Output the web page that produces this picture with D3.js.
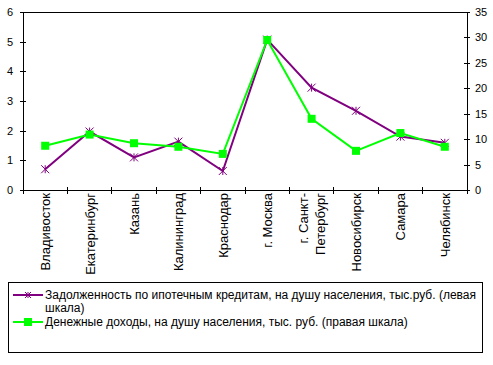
<!DOCTYPE html>
<html>
<head>
<meta charset="utf-8">
<script src="https://cdn.jsdelivr.net/npm/d3@7"></script>
<style>
  body { margin: 0; background: #fff; }
  svg { display: block; font-family: "Liberation Sans", Arial, sans-serif; }
</style>
</head>
<body>
<div id="chart"></div>
<script>
// data
const cities = ["Владивосток", "Екатеринбург", "Казань", "Калининград", "Краснодар",
  "г. Москва", "г. Санкт-|Петербург", "Новосибирск", "Самара", "Челябинск"];
const mortgageDebt = [0.70, 1.97, 1.10, 1.63, 0.64, 5.07, 3.45, 2.67, 1.80, 1.59];
const income = [8.7, 10.9, 9.2, 8.5, 7.1, 29.5, 14.0, 7.7, 11.2, 8.5];
const leftTicks = [0, 1, 2, 3, 4, 5, 6];
const rightTicks = [0, 5, 10, 15, 20, 25, 30, 35];
const legendLabels = [
  ["Задолженность по ипотечным кредитам, на душу населения, тыс.руб. (левая", "шкала)"],
  ["Денежные доходы, на душу населения, тыс. руб. (правая шкала)"]
];

const W = 493, H = 365;
const margin = {top: 12, right: 26, bottom: 175, left: 23};
const width = W - margin.left - margin.right;
const height = H - margin.top - margin.bottom;

const svg = d3.select("#chart").append("svg")
  .attr("width", W).attr("height", H);

const g = svg.append("g")
  .attr("transform", "translate(" + margin.left + "," + margin.top + ")");

let x = d3.scaleBand().domain(cities).range([0, width]);
let yL = d3.scaleLinear().domain([0, 6]).range([height, 0]);
let yR = d3.scaleLinear().domain([0, 35]).range([height, 0]);

// plot frame
g.append("rect")
  .attr("width", width).attr("height", height)
  .attr("fill", "none").attr("stroke", "#000").attr("stroke-width", 1)
  .attr("shape-rendering", "crispEdges");

// left axis
g.append("g")
  .call(d3.axisLeft(yL).tickValues(leftTicks).tickSize(4).tickPadding(6).tickFormat(d3.format("d")))
  .call(a => a.select(".domain").remove())
  .call(a => a.selectAll("line").attr("x2", -3).attr("x1", 3).attr("shape-rendering", "crispEdges"))
  .call(a => a.selectAll("text").attr("font-size", 11).attr("font-family", null).attr("fill", "#000"));

// right axis
g.append("g")
  .attr("transform", "translate(" + width + ",0)")
  .call(d3.axisRight(yR).tickValues(rightTicks).tickSize(4).tickPadding(4))
  .call(a => a.select(".domain").remove())
  .call(a => a.selectAll("line").attr("x1", -3).attr("x2", 3).attr("shape-rendering", "crispEdges"))
  .call(a => a.selectAll("text").attr("font-size", 11).attr("font-family", null).attr("fill", "#000"));

// bottom ticks at category boundaries
const bounds = cities.map(c => x(c)).concat([width]);
g.append("g").selectAll("line").data(bounds).join("line")
  .attr("x1", d => d).attr("x2", d => d)
  .attr("y1", height - 3).attr("y2", height + 4)
  .attr("stroke", "#000").attr("shape-rendering", "crispEdges");

// category labels (rotated)
const labels = g.append("g").selectAll("text").data(cities).join("text")
  .attr("transform", d => "translate(" + (x(d) + x.bandwidth() / 2) + "," + (height + 3) + ") rotate(-90)")
  .attr("text-anchor", "end")
  .attr("font-size", 13)
  .attr("fill", "#000");
labels.each(function(d) {
  const parts = d.split("|");
  const t = d3.select(this);
  parts.forEach((p, i) => {
    t.append("tspan").attr("x", 0)
      .attr("y", (i - (parts.length - 1) / 2) * 17 + 5)
      .text(p);
  });
});

// lines
const debtLine = d3.line()
  .x((d, i) => x(cities[i]) + x.bandwidth() / 2)
  .y(d => yL(d));
const incomeLine = d3.line()
  .x((d, i) => x(cities[i]) + x.bandwidth() / 2)
  .y(d => yR(d));

g.append("path").datum(mortgageDebt)
  .attr("d", debtLine).attr("fill", "none")
  .attr("stroke", "#800080").attr("stroke-width", 2);

g.append("path").datum(income)
  .attr("d", incomeLine).attr("fill", "none")
  .attr("stroke", "#00ff00").attr("stroke-width", 2);

// asterisk markers
function star(sel, cx, cy, r) {
  const s = sel.append("g").attr("transform", "translate(" + cx + "," + cy + ")")
    .attr("stroke", "#800080").attr("stroke-width", 1);
  s.append("line").attr("x1", -r).attr("y1", -r).attr("x2", r).attr("y2", r);
  s.append("line").attr("x1", -r).attr("y1", r).attr("x2", r).attr("y2", -r);
  s.append("line").attr("x1", 0).attr("y1", -r).attr("x2", 0).attr("y2", r);
}
mortgageDebt.forEach((d, i) => star(g, x(cities[i]) + x.bandwidth() / 2, yL(d), 4));

g.append("g").selectAll("rect").data(income).join("rect")
  .attr("x", (d, i) => x(cities[i]) + x.bandwidth() / 2 - 4)
  .attr("y", d => yR(d) - 4)
  .attr("width", 8).attr("height", 8)
  .attr("fill", "#00ff00");

// legend
const leg = svg.append("g");
leg.append("rect")
  .attr("x", 8.5).attr("y", 282.5).attr("width", 474).attr("height", 70)
  .attr("fill", "#fff").attr("stroke", "#000");

const rowsY = [295, 322];
rowsY.forEach((yy, i) => {
  leg.append("line").attr("x1", 13).attr("x2", 43).attr("y1", yy).attr("y2", yy)
    .attr("stroke", i === 0 ? "#800080" : "#00ff00").attr("stroke-width", 2);
  if (i === 0) star(leg, 28, yy, 3);
  else leg.append("rect").attr("x", 24).attr("y", yy - 4).attr("width", 8).attr("height", 8).attr("fill", "#00ff00");
  legendLabels[i].forEach((t, j) => {
    leg.append("text").attr("x", 45).attr("y", yy + 4 + j * 13)
      .attr("font-size", 12).attr("fill", "#000").text(t);
  });
});
</script>
</body>
</html>
